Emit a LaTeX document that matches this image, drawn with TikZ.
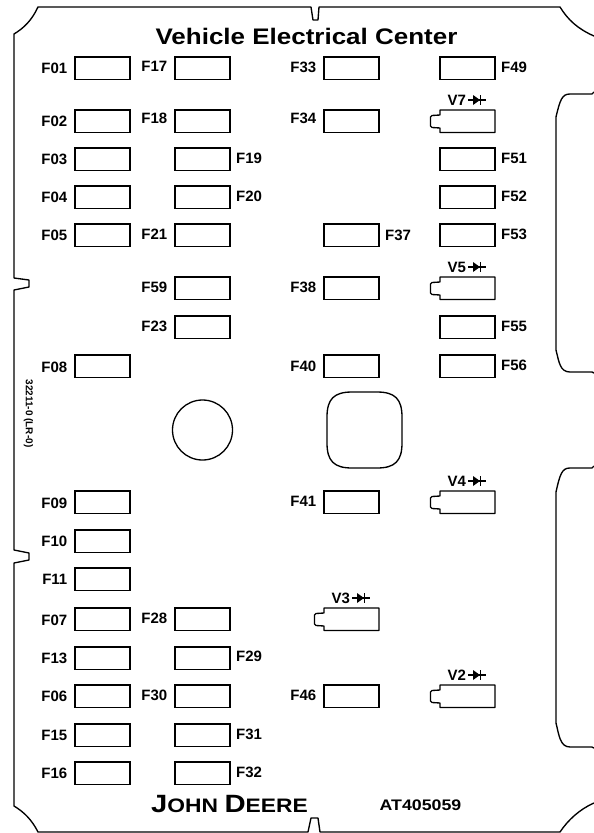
\documentclass[tikz,border=0pt]{standalone}
\usepackage{fontspec}
\setmainfont{Liberation Sans}
\begin{document}
\begin{tikzpicture}[x=1pt,y=-1pt,
  edge/.style={line width=1.35pt,line join=round},
  fusebox/.style={draw,line width=1.1pt,minimum width=55pt,minimum height=22.5pt,inner sep=0pt,outer sep=0pt,anchor=north west},
  diodebox/.style={minimum width=55pt,minimum height=22.5pt,inner sep=0pt,outer sep=0pt,anchor=north west},
  lab/.style={font=\fontsize{15}{16}\selectfont\bfseries,inner sep=0pt},
  vlab/.style={font=\fontsize{15}{16}\selectfont\bfseries,inner sep=0pt,anchor=west}]
\useasboundingbox (0,0) rectangle (594,833);
% outline
\draw[edge] (594,36) .. controls (578,29) and (568,20) .. (560,7) -- (319,7) -- (318,20) -- (313,20) -- (311,7) -- (38,7)
  .. controls (32,20) and (24,28) .. (14,34) -- (14,278) -- (29,280) -- (29,287) -- (14,290) -- (14,550) -- (29,553) -- (29,560) -- (14,563) -- (14,806)
  .. controls (24,812) and (32,820) .. (38,832) -- (308,832) -- (311,818) -- (318,818) -- (320,832) -- (560,832)
  .. controls (568,820) and (580,809) .. (594,803);
% cut-outs on the right
\draw[edge] (594,92) -- (592,94) -- (570,94) .. controls (562,94) and (560,100) .. (556,117) -- (556,350) .. controls (559,362) and (560,372) .. (570,372) -- (592,372) -- (594,373);
\draw[edge] (594,466) -- (592,468) -- (570,468) .. controls (562,468) and (560,474) .. (556,492) -- (556,723) .. controls (559,735) and (560,747) .. (570,747) -- (592,747) -- (594,748);
% holes
\node[draw,line width=1.3pt,circle,minimum size=60pt,inner sep=0pt] (hole) at (202.5,430) {};
\draw[edge] (352,392) -- (377,392) .. controls (395,392) and (402,399) .. (402,417) -- (402,443) .. controls (402,461) and (395,468) .. (377,468) -- (352,468) .. controls (334,468) and (327,461) .. (327,443) -- (327,417) .. controls (327,399) and (334,392) .. (352,392) -- cycle;
% title and texts
\node[inner sep=0pt,font=\fontsize{22.5}{23}\selectfont\bfseries] (title) at (306.5,36) {\scalebox{1.155}[1]{Vehicle Electrical Center}};
\node[inner sep=0pt,font=\fontsize{15.3}{16}\selectfont\bfseries] (code) at (420.5,805.5) {\scalebox{1.16}[1]{AT405059}};
\node[inner sep=0pt,rotate=-90,font=\fontsize{10}{11}\selectfont\bfseries] (partno) at (28.5,413.5) {32211-0 (LR-0)};
\node[inner sep=0pt,font=\bfseries] (logo) at (229.5,804) {\scalebox{1.17}[1]{\fontsize{25}{25}\selectfont J\fontsize{19.5}{20}\selectfont OHN\ \fontsize{25}{25}\selectfont D\fontsize{19.5}{20}\selectfont EERE}};
% fuses: name/x/y, label on the left
\foreach \n/\x/\y/\ly in {F01/75/57/68,F02/75/110/121,F03/75/148/159,F04/75/186/197,F05/75/224/235,F08/75/355/367,F09/75/491/503,F10/75/530/541,F11/75/568/579,F07/75/608/620,F13/75/647/658,F06/75/685/696,F15/75/724/735,F16/75/762/773,
  F17/175/57/66,F18/175/110/118,F21/175/224/234,F59/175/277/287,F23/175/316/326,F28/175/608/618,F30/175/685/695,
  F33/324/57/67,F34/324/110/118,F38/324/277/287,F40/324/355/366,F41/324/491/501,F46/324/685/695}{
  \node[fusebox] (\n) at (\x,\y) {};
  \node[lab,anchor=east] (\n-label) at (\x-7.5,\ly) {\n};
}
% fuses: label on the right
\foreach \n/\x/\y/\ly in {F19/175/148/158,F20/175/186/196,F29/175/647/656,F31/175/724/734,F32/175/762/772,F37/324/224/235,
  F49/440/57/67,F51/440/148/158,F52/440/186/196,F53/440/224/234,F55/440/316/326,F56/440/355/365}{
  \node[fusebox] (\n) at (\x,\y) {};
  \node[lab,anchor=west] (\n-label) at (\x+61,\ly) {\n};
}
% diodes
\foreach \n/\x/\y in {V7/440/110,V5/440/277,V4/440/491,V3/324/608,V2/440/685}{
  \node[diodebox] (\n) at (\x,\y) {};
  \draw[edge] (\x,\y+5) -- (\x,\y) -- (\x+55,\y) -- (\x+55,\y+22.5) -- (\x,\y+22.5) -- (\x,\y+18) -- (\x-8,\y+17.5) -- (\x-9.5,\y+16) -- (\x-9.5,\y+7) -- (\x-8,\y+5.5) -- cycle;
  \node[vlab] (\n-label) at (\x+7.5,\y-10) {\n};
  \draw[line width=1.2pt] (\x+28,\y-10) -- (\x+46,\y-10);
  \fill (\x+33,\y-15) -- (\x+40,\y-10) -- (\x+33,\y-5) -- cycle;
  \draw[line width=1.2pt] (\x+40.5,\y-15) -- (\x+40.5,\y-5);
}
\end{tikzpicture}
\end{document}
